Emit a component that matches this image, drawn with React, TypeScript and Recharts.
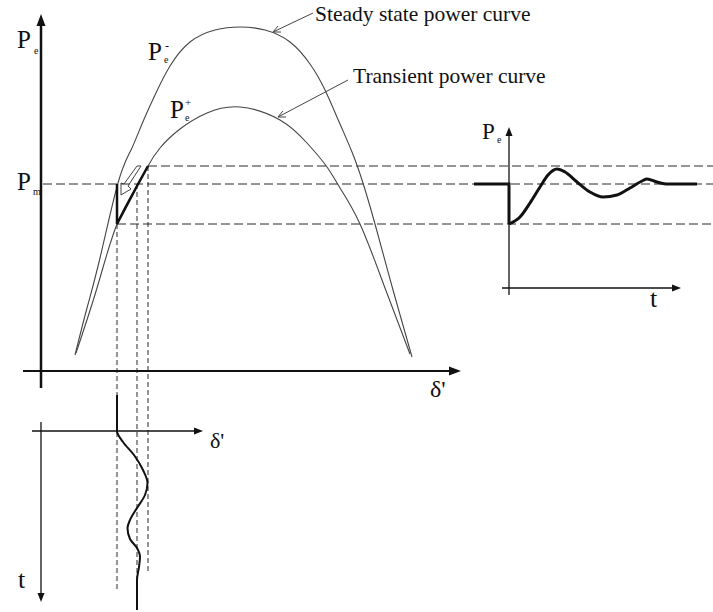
import React from 'react';
import { ComposedChart, Line, Scatter, XAxis, YAxis } from 'recharts';

const WIDTH = 713;
const HEIGHT = 612;

// δ' (deg) is shared by the main plot and the lower inset,
// Pe (p.u.) is shared by the main plot and the right inset.
const deltaDomain: [number, number] = [-20.5, 336];
const peDomain: [number, number] = [-2.41, 3.71];
const tRightDomain: [number, number] = [-10.18, 4.08];
const tDownDomain: [number, number] = [-10.775, 4.525];

// power-angle curves
const steadyDelta = [17, 23, 29.5, 38.5, 45, 50.5, 57, 64.5, 74.5, 87, 99.5, 112, 124.5, 134.5, 142, 149.5, 155.5, 160.5, 167, 176, 185.5];
const steadyPe = [0.16, 0.63, 1.13, 1.88, 2.21, 2.47, 2.76, 3.05, 3.29, 3.41, 3.44, 3.41, 3.29, 3.07, 2.81, 2.47, 2.19, 1.91, 1.47, 0.81, 0.14];
const transientDelta = [17.5, 28, 38, 48, 53.5, 59.5, 69.5, 83, 99.5, 119.5, 133, 143, 149.5, 159.5, 172, 184.5];
const transientPe = [0.18, 0.83, 1.47, 1.85, 2.05, 2.23, 2.42, 2.58, 2.64, 2.51, 2.28, 2.04, 1.83, 1.47, 0.83, 0.17];

// operating levels
const pm = 1.87;
const peHigh = 2.05;
const peLow = 1.47;
const delta0 = 38;
const deltaEq = 48;
const deltaMax = 53.5;
const deltaEnd = 336;

// swing along the transient curve
const swingDelta = [delta0, delta0, deltaEq, deltaMax];
const swingPe = [pm, peLow, 1.85, peHigh];

// hollow return arrow next to the swing
const returnDelta = [50, 48, 41.5, 40, 40, 45, 43.5, 50];
const returnPe = [2.05, 2.05, 1.87, 1.88, 1.76, 1.82, 1.85, 2.05];

// callout pointers
const steadyPointerDelta = [136, 116];
const steadyPointerPe = [3.58, 3.39];
const steadyHeadDelta = [120, 116, 118.5];
const steadyHeadPe = [3.39, 3.39, 3.45];
const transientPointerDelta = [153.5, 118.5];
const transientPointerPe = [2.91, 2.54];
const transientHeadDelta = [122.5, 118.5, 120.9];
const transientHeadPe = [2.54, 2.54, 2.6];

// Pe(t) step response (right inset)
const stepT = [-0.7, 0, 0];
const stepPe = [pm, pm, peLow];
const responseT = [0, 0.22, 0.42, 0.62, 0.78, 0.96, 1.12, 1.36, 1.62, 1.88, 2.16, 2.42, 2.66, 2.76, 2.96, 3.18, 3.76];
const responsePe = [1.47, 1.54, 1.68, 1.84, 1.96, 2.02, 1.99, 1.89, 1.79, 1.74, 1.76, 1.83, 1.9, 1.92, 1.89, 1.87, 1.87];

// δ'(t) swing (lower inset, time running downwards)
const swingTimeDelta = [38, 38, 41, 46.5, 51, 53.25, 52, 48, 44.5, 43.25, 44.5, 48, 49.5, 49, 48, 48];
const swingTime = [-0.9, 0, 0.275, 0.6, 0.975, 1.3, 1.6, 1.925, 2.225, 2.425, 2.7, 2.925, 3.15, 3.4, 3.725, 4.475];

type Pt = { x: number; y: number };
const pts = (xs: number[], ys: number[]): Pt[] => xs.map((x, i) => ({ x, y: ys[i] }));

type Dir = 'up' | 'down' | 'right';
const arrowHead = (dir: Dir, len: number, half: number) => (props: any) => {
  const { cx, cy } = props;
  let d = '';
  if (dir === 'up') d = `M${cx},${cy} L${cx - half},${cy + len} L${cx + half},${cy + len} Z`;
  if (dir === 'down') d = `M${cx},${cy} L${cx - half},${cy - len} L${cx + half},${cy - len} Z`;
  if (dir === 'right') d = `M${cx},${cy} L${cx - len},${cy - half} L${cx - len},${cy + half} Z`;
  return <path d={d} fill="#111" />;
};

const CURVE = '#454545';
const DASH = '#2a2a2a';
const INK = '#111';

const seg = (key: string, data: Pt[], stroke: string, width: number, extra: any = {}) => (
  <Line
    key={key}
    data={data}
    dataKey="y"
    type="linear"
    stroke={stroke}
    strokeWidth={width}
    dot={false}
    activeDot={false}
    legendType="none"
    isAnimationActive={false}
    {...extra}
  />
);

const layer: React.CSSProperties = { position: 'absolute', left: 0, top: 0 };
const margin = { top: 0, right: 0, bottom: 0, left: 0 };

const MainPlot = () => (
  <ComposedChart width={WIDTH} height={HEIGHT} margin={margin}>
    <XAxis type="number" dataKey="x" domain={deltaDomain} allowDataOverflow hide />
    <YAxis type="number" dataKey="y" domain={peDomain} allowDataOverflow hide />
    {seg('pm', pts([1, deltaEnd], [pm, pm]), DASH, 1, { strokeDasharray: '9 4' })}
    {seg('hi', pts([deltaMax, deltaEnd], [peHigh, peHigh]), DASH, 1, { strokeDasharray: '9 4' })}
    {seg('lo', pts([delta0, deltaEnd], [peLow, peLow]), DASH, 1, { strokeDasharray: '9 4' })}
    {seg('v0', pts([delta0, delta0], [peLow, -2.21]), DASH, 1, { strokeDasharray: '5 3' })}
    {seg('v1', pts([deltaEq, deltaEq], [pm, -2.12]), DASH, 1, { strokeDasharray: '5 3' })}
    {seg('v2', pts([deltaMax, deltaMax], [peHigh, -2.02]), DASH, 1, { strokeDasharray: '5 3' })}
    {seg('steady', pts(steadyDelta, steadyPe), CURVE, 1.1, { type: 'natural' })}
    {seg('transient', pts(transientDelta, transientPe), CURVE, 1.1, { type: 'natural' })}
    {seg('swing', pts(swingDelta, swingPe), INK, 2.5)}
    {seg('return', pts(returnDelta, returnPe), CURVE, 1)}
    {seg('sp', pts(steadyPointerDelta, steadyPointerPe), CURVE, 1)}
    {seg('sh', pts(steadyHeadDelta, steadyHeadPe), CURVE, 1)}
    {seg('tp', pts(transientPointerDelta, transientPointerPe), CURVE, 1)}
    {seg('th', pts(transientHeadDelta, transientHeadPe), CURVE, 1)}
    {seg('yaxis', pts([0, 0], [-0.17, 3.46]), INK, 2.5)}
    {seg('xaxis', pts([-9, 204], [0, 0]), INK, 2)}
    <Scatter data={[{ x: 0, y: 3.57 }]} shape={arrowHead('up', 12, 4.5)} isAnimationActive={false} legendType="none" />
    <Scatter data={[{ x: 210, y: 0 }]} shape={arrowHead('right', 12, 4.5)} isAnimationActive={false} legendType="none" />
  </ComposedChart>
);

const RightInset = () => (
  <ComposedChart width={WIDTH} height={HEIGHT} margin={margin}>
    <XAxis type="number" dataKey="x" domain={tRightDomain} allowDataOverflow hide />
    <YAxis type="number" dataKey="y" domain={peDomain} allowDataOverflow hide />
    {seg('ty', pts([0, 0], [0.76, 2.36]), INK, 1.3)}
    {seg('tx', pts([-0.14, 3.26], [0.83, 0.83]), INK, 1.3)}
    {seg('step', pts(stepT, stepPe), INK, 3)}
    {seg('resp', pts(responseT, responsePe), INK, 3, { type: 'monotone' })}
    <Scatter data={[{ x: 0, y: 2.44 }]} shape={arrowHead('up', 9, 3.5)} isAnimationActive={false} legendType="none" />
    <Scatter data={[{ x: 3.44, y: 0.83 }]} shape={arrowHead('right', 9, 3.5)} isAnimationActive={false} legendType="none" />
  </ComposedChart>
);

const BottomInset = () => (
  <ComposedChart width={WIDTH} height={HEIGHT} margin={margin}>
    <XAxis type="number" dataKey="x" domain={deltaDomain} allowDataOverflow hide />
    <YAxis type="number" dataKey="y" domain={tDownDomain} allowDataOverflow reversed hide />
    {seg('bx', pts([-4.5, 76.5], [0, 0]), INK, 1.3)}
    {seg('by', pts([0, 0], [-0.225, 4.05]), INK, 1.3)}
    {seg('osc', pts(swingTimeDelta, swingTime), INK, 2, { type: 'monotoneY' })}
    <Scatter data={[{ x: 81, y: 0 }]} shape={arrowHead('right', 9, 3.5)} isAnimationActive={false} legendType="none" />
    <Scatter data={[{ x: 0, y: 4.275 }]} shape={arrowHead('down', 9, 3.5)} isAnimationActive={false} legendType="none" />
  </ComposedChart>
);

const Labels = () => (
  <svg width={WIDTH} height={HEIGHT} style={{ ...layer, pointerEvents: 'none' }} fontFamily="'Liberation Serif', 'Times New Roman', serif" fill={INK}>
    <text x={17} y={48} fontSize={25}>P</text>
    <text x={34} y={54} fontSize={10}>e</text>

    <text x={148} y={60} fontSize={25}>P</text>
    <text x={164} y={63} fontSize={10}>e</text>
    <text x={165} y={50} fontSize={12}>-</text>

    <text x={170} y={118} fontSize={25}>P</text>
    <text x={185} y={121} fontSize={10}>e</text>
    <text x={185} y={106} fontSize={11}>+</text>

    <text x={17} y={190} fontSize={25}>P</text>
    <text x={33} y={195} fontSize={10}>m</text>

    <text x={430} y={397} fontSize={24}>δ'</text>

    <text x={315} y={21} fontSize={21.5}>Steady state power curve</text>
    <text x={353} y={83} fontSize={21.5}>Transient power curve</text>

    <text x={482} y={139} fontSize={23}>P</text>
    <text x={497} y={143} fontSize={10}>e</text>
    <text x={650} y={307} fontSize={26}>t</text>

    <text x={210} y={448} fontSize={22}>δ'</text>
    <text x={18} y={588} fontSize={26}>t</text>
  </svg>
);

export default function App() {
  return (
    <div style={{ ...layer, width: WIDTH, height: HEIGHT, background: '#fff' }}>
      <div style={layer}>
        <MainPlot />
      </div>
      <div style={layer}>
        <RightInset />
      </div>
      <div style={layer}>
        <BottomInset />
      </div>
      <Labels />
    </div>
  );
}
